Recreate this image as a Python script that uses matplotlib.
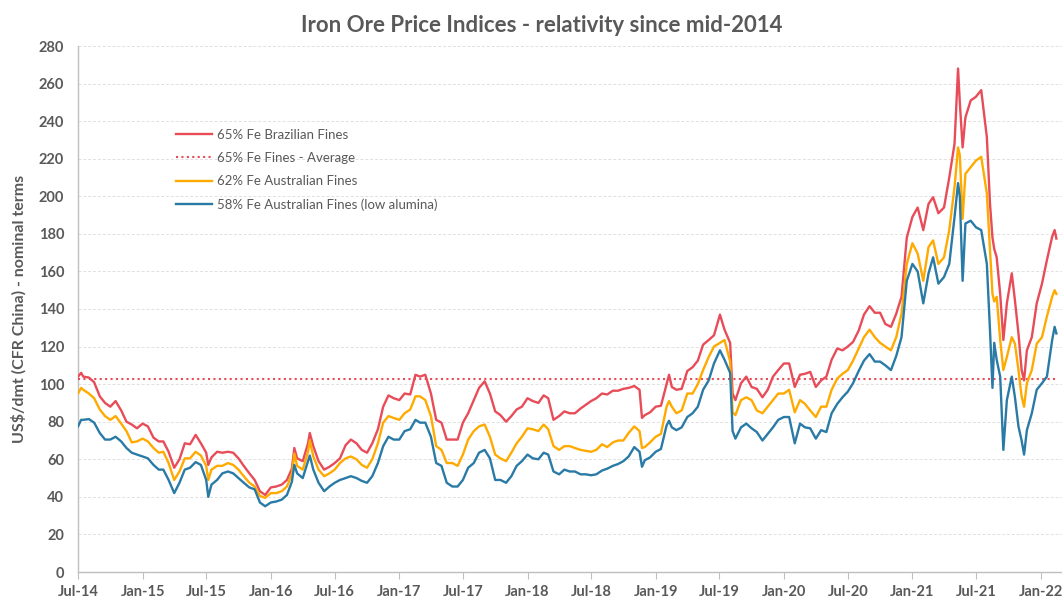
import pandas as pd
import matplotlib
matplotlib.use("Agg")
import matplotlib.pyplot as plt
import matplotlib.dates as mdates

# --- data (US$/dmt, CFR China) ---
dates = [
    "2014-07-01", "2014-07-10", "2014-07-16", "2014-08-01", "2014-08-16", "2014-09-01", "2014-09-16",
    "2014-10-01", "2014-10-16", "2014-11-01", "2014-11-16", "2014-12-01", "2014-12-16",
    "2015-01-01", "2015-01-16", "2015-02-01", "2015-02-16", "2015-03-01", "2015-03-16",
    "2015-04-01", "2015-04-16", "2015-05-01", "2015-05-16", "2015-06-01", "2015-06-16",
    "2015-07-01", "2015-07-07", "2015-07-16", "2015-08-01", "2015-08-16", "2015-09-01", "2015-09-16",
    "2015-10-01", "2015-10-16", "2015-11-01", "2015-11-16", "2015-12-01", "2015-12-16",
    "2016-01-01", "2016-01-16", "2016-02-01", "2016-02-16", "2016-03-01", "2016-03-08", "2016-03-16",
    "2016-04-01", "2016-04-16", "2016-04-21", "2016-05-01", "2016-05-16", "2016-06-01", "2016-06-16",
    "2016-07-01", "2016-07-16", "2016-08-01", "2016-08-16", "2016-09-01", "2016-09-16",
    "2016-10-01", "2016-10-16", "2016-11-01", "2016-11-16", "2016-12-01", "2016-12-16",
    "2017-01-01", "2017-01-16", "2017-02-01", "2017-02-16", "2017-03-01", "2017-03-16",
    "2017-04-01", "2017-04-16", "2017-05-01", "2017-05-16", "2017-06-01", "2017-06-16",
    "2017-07-01", "2017-07-16", "2017-08-01", "2017-08-16", "2017-09-01", "2017-09-16",
    "2017-10-01", "2017-10-16", "2017-11-01", "2017-11-16", "2017-12-01", "2017-12-16",
    "2018-01-01", "2018-01-16", "2018-02-01", "2018-02-16", "2018-03-01", "2018-03-16",
    "2018-04-01", "2018-04-16", "2018-05-01", "2018-05-16", "2018-06-01", "2018-06-16",
    "2018-07-01", "2018-07-16", "2018-08-01", "2018-08-16", "2018-09-01", "2018-09-16",
    "2018-10-01", "2018-10-16", "2018-11-01", "2018-11-16", "2018-11-23", "2018-12-01", "2018-12-16",
    "2019-01-01", "2019-01-16", "2019-02-01", "2019-02-08", "2019-02-16", "2019-03-01", "2019-03-16",
    "2019-04-01", "2019-04-16", "2019-05-01", "2019-05-16", "2019-06-01", "2019-06-16",
    "2019-07-03", "2019-07-16", "2019-08-01", "2019-08-08", "2019-08-16", "2019-09-01", "2019-09-16",
    "2019-10-01", "2019-10-16", "2019-11-01", "2019-11-16", "2019-12-01", "2019-12-16",
    "2020-01-01", "2020-01-16", "2020-02-01", "2020-02-16", "2020-03-01", "2020-03-16",
    "2020-04-01", "2020-04-16", "2020-05-01", "2020-05-16", "2020-06-01", "2020-06-16",
    "2020-07-01", "2020-07-16", "2020-08-01", "2020-08-16", "2020-09-01", "2020-09-16",
    "2020-10-01", "2020-10-16", "2020-11-01", "2020-11-16", "2020-12-01", "2020-12-16",
    "2021-01-01", "2021-01-16", "2021-02-01", "2021-02-16", "2021-03-01", "2021-03-16",
    "2021-04-01", "2021-04-16", "2021-05-01", "2021-05-11", "2021-05-16", "2021-05-24",
    "2021-06-01", "2021-06-16", "2021-07-01", "2021-07-16", "2021-08-01", "2021-08-10",
    "2021-08-17", "2021-08-22", "2021-08-29", "2021-09-08", "2021-09-17", "2021-09-27",
    "2021-10-11", "2021-10-20", "2021-10-30", "2021-11-08", "2021-11-15", "2021-11-23",
    "2021-12-07", "2021-12-21", "2022-01-05", "2022-01-19", "2022-02-03", "2022-02-10", "2022-02-15",
]

fe65_brazil = [
    104, 106, 104, 103.5, 101, 93.5, 90,
    88, 91, 86, 80, 78.5, 76.5,
    79, 77.5, 71.5, 69.5, 69.5, 64,
    55.5, 60, 68.5, 68, 73, 68.5,
    63.5, 57, 61, 64, 63.5, 64, 63.5,
    60.5, 56.5, 52.5, 49, 43, 41,
    45, 45.5, 46.5, 49, 55, 66, 60.5,
    59, 68.5, 74, 67, 59, 54.5, 56,
    58, 60.5, 67.5, 70.5, 68.5, 65,
    63.5, 68.5, 76, 88, 94, 92.5,
    91.5, 95, 94.5, 105, 104, 105,
    95, 81, 79.5, 70.5, 70.5, 70.5,
    79.5, 84.5, 91.5, 98, 101.5, 95,
    85.5, 83.5, 80, 83, 86.5, 88,
    92.5, 91, 90, 94, 92.5, 81,
    83, 85.5, 84.5, 84.5, 87, 89,
    91, 92.5, 95, 94.5, 96.5, 96.5,
    97.5, 98, 99, 97, 82, 83.5, 85,
    88, 88.5, 100, 105, 98.5, 97, 97.5,
    107, 109, 112.5, 121, 123.5, 126,
    137, 129, 122, 95, 91.5, 100.5, 104,
    98.5, 97.5, 93, 97, 104, 107.5,
    111, 111, 98.5, 105, 105.5, 106.5,
    98.5, 102, 104, 113, 119, 118,
    120, 122.5, 128.5, 137, 141.5, 138,
    138, 132, 130.5, 137.5, 146.5, 178,
    189, 194, 182, 196, 199.5, 191,
    194, 210, 228, 268, 250, 226,
    242, 251, 253, 256.5, 231.5, 196,
    178, 172, 167.5, 148, 123.5, 143,
    159, 144.5, 127, 107.5, 102, 118,
    125, 143, 153.5, 166, 178.5, 182, 177.5,
]

fe62_aus = [
    95, 98, 97, 95, 92.5, 86.5, 83,
    81, 83, 79, 75, 69, 69.5,
    71, 69.5, 66, 63.5, 64, 58,
    49, 53.5, 60.5, 60.5, 64, 62,
    56.5, 49, 54.5, 56.5, 56.5, 58, 57,
    54.5, 51, 47.5, 45.5, 40.5, 39.5,
    42, 42, 43, 45.5, 52, 63, 56.5,
    54.5, 64, 70, 61.5, 54.5, 51, 52.5,
    54.5, 58, 60.5, 61.5, 60, 57,
    55.5, 60, 68.5, 79.5, 83, 82,
    81, 84.5, 86.5, 93.5, 93.5, 91.5,
    83, 67, 65, 58, 58, 56.5,
    62.5, 70.5, 75, 77.5, 78.5, 72,
    62.5, 60.5, 59, 63.5, 68.5, 72,
    76.5, 76, 75, 78.5, 76, 67,
    65, 67, 67, 66, 65, 64.5,
    64, 65, 68, 66.5, 69, 70,
    70, 74, 77.5, 75, 66, 66.5, 69,
    72, 73.5, 88, 91, 88, 84.5, 86,
    95, 95, 100, 107.5, 114.5, 120,
    122, 123.5, 112, 85, 83.5, 91.5, 93,
    91.5, 86, 84.5, 88, 91.5, 95,
    95, 97, 85, 91.5, 89.5, 86,
    82.5, 88, 88, 97, 103, 105.5,
    107.5, 112.5, 119, 125, 129, 125,
    122, 120, 118, 125, 137.5, 164,
    175, 169.5, 155, 173, 176.5, 164,
    167.5, 182, 205, 226, 222, 188,
    212, 215.5, 219, 221, 201.5, 171,
    148, 144, 146.5, 123.5, 107.5, 114.5,
    125, 121.5, 107.5, 93.5, 88, 100.5,
    107.5, 121.5, 125, 136, 146.5, 150, 148,
]

fe58_aus_low_al = [
    77.5, 81, 81, 81.4, 79.5, 74, 70.5,
    70.5, 72, 69.5, 66, 63.5, 62.5,
    61.5, 60.5, 57, 54.5, 54.5, 49,
    42, 47.5, 54.5, 55.5, 58.5, 57,
    49, 40, 46.5, 49, 52.5, 53.5, 52.5,
    50, 47.5, 45, 44, 37, 35,
    37, 37.5, 38.5, 41, 48, 57, 52.5,
    50, 59, 62, 54.5, 47.5, 43, 45.5,
    47.5, 49, 50, 51, 50, 48.5,
    47.5, 51, 58, 67, 72, 70.5,
    70.5, 75, 76, 81, 79.5, 79.5,
    72, 58, 56.5, 47.5, 45.5, 45.5,
    49, 55.5, 58, 63.5, 65, 60.5,
    49, 49, 47.5, 51, 56.5, 59,
    62.5, 60.5, 60, 63.5, 62.5, 53.5,
    52, 54.5, 53.5, 53.5, 52, 52,
    51.5, 52, 54, 55, 56.5, 57.5,
    59, 61.5, 66.5, 64, 56, 59.5, 61,
    64, 65.5, 78, 80.5, 77, 75.5, 77,
    82.5, 84.5, 88, 97, 102, 111,
    118, 113, 106, 75, 71, 77, 79,
    76.5, 74.5, 70, 73.5, 77, 81,
    82.5, 82.5, 68.5, 79, 77, 76.5,
    71, 75.5, 74.5, 84.5, 89.5, 93,
    96, 100.5, 107, 112.5, 116, 112,
    112, 110, 107.5, 115, 125, 155,
    164, 160, 143, 159, 167.5, 153.5,
    157, 164, 189, 207, 200, 155,
    185.5, 187, 183.5, 182, 164, 128.5,
    98, 122, 113, 104, 65, 91.5,
    104, 93, 77.5, 70, 62.5, 75.5,
    84.5, 97, 100.5, 104, 123.5, 130.5, 127,
]

avg_65 = 103  # 65% Fe fines average over the period

x_start = "2014-07-01"
x_end = "2022-03-03"

# --- colours ---
RED = "#E84C58"
ORANGE = "#FFAA00"
BLUE = "#2A7AA6"
GREY_TXT = "#595959"

plt.rcParams["font.family"] = ["Lato", "DejaVu Sans"]

d = pd.to_datetime(dates)

fig = plt.figure(figsize=(10.62, 5.99), dpi=100)
ax = fig.add_axes([78 / 1062, 1 - 572 / 599, 1 - 78 / 1062, (572 - 46) / 599])

ax.plot(d, fe65_brazil, color=RED, lw=1.7, label="65% Fe Brazilian Fines", zorder=4)
ax.plot([d[0], d[-1]], [avg_65, avg_65], color=RED, lw=1.5, linestyle=(0, (1, 1.6)),
        label="65% Fe Fines - Average", zorder=3)
ax.plot(d, fe62_aus, color=ORANGE, lw=1.7, label="62% Fe Australian Fines", zorder=4)
ax.plot(d, fe58_aus_low_al, color=BLUE, lw=1.7, label="58% Fe Australian Fines (low alumina)", zorder=5)

ax.set_ylim(0, 280)
ax.set_yticks(range(0, 281, 20))
ax.set_xlim(pd.Timestamp(x_start), pd.Timestamp(x_end))
ax.xaxis.set_major_locator(mdates.MonthLocator(bymonth=[1, 7]))
ax.xaxis.set_major_formatter(mdates.DateFormatter("%b-%y"))

ax.grid(axis="y", color="#e0e0e0", lw=0.7, linestyle=(0, (3, 2)))
ax.set_axisbelow(True)
for s in ["top", "right"]:
    ax.spines[s].set_visible(False)
for s in ["left", "bottom"]:
    ax.spines[s].set_color("#bfbfbf")
    ax.spines[s].set_linewidth(1.0)

ax.tick_params(axis="y", length=0, pad=10, labelsize=10.5, labelcolor=GREY_TXT)
ax.tick_params(axis="x", length=5, color="#bfbfbf", direction="out", pad=4,
               labelsize=10.5, labelcolor=GREY_TXT)
for lab in ax.get_xticklabels() + ax.get_yticklabels():
    lab.set_fontweight("bold")

ax.set_ylabel("US$/dmt (CFR China) - nominal terms", fontsize=11.5, fontweight="bold",
              color=GREY_TXT, labelpad=9)

fig.text(0.5 + 0.01, 1 - 26 / 599, "Iron Ore Price Indices - relativity since mid-2014",
         ha="center", va="center", fontsize=16, fontweight="bold", color=GREY_TXT)

leg = ax.legend(loc="upper left", bbox_to_anchor=(0.088, 0.865), frameon=False,
                fontsize=9.5, labelspacing=0.85, handlelength=2.7, handletextpad=0.35)
for t in leg.get_texts():
    t.set_color(GREY_TXT)

fig.savefig("out.png", dpi=100)
